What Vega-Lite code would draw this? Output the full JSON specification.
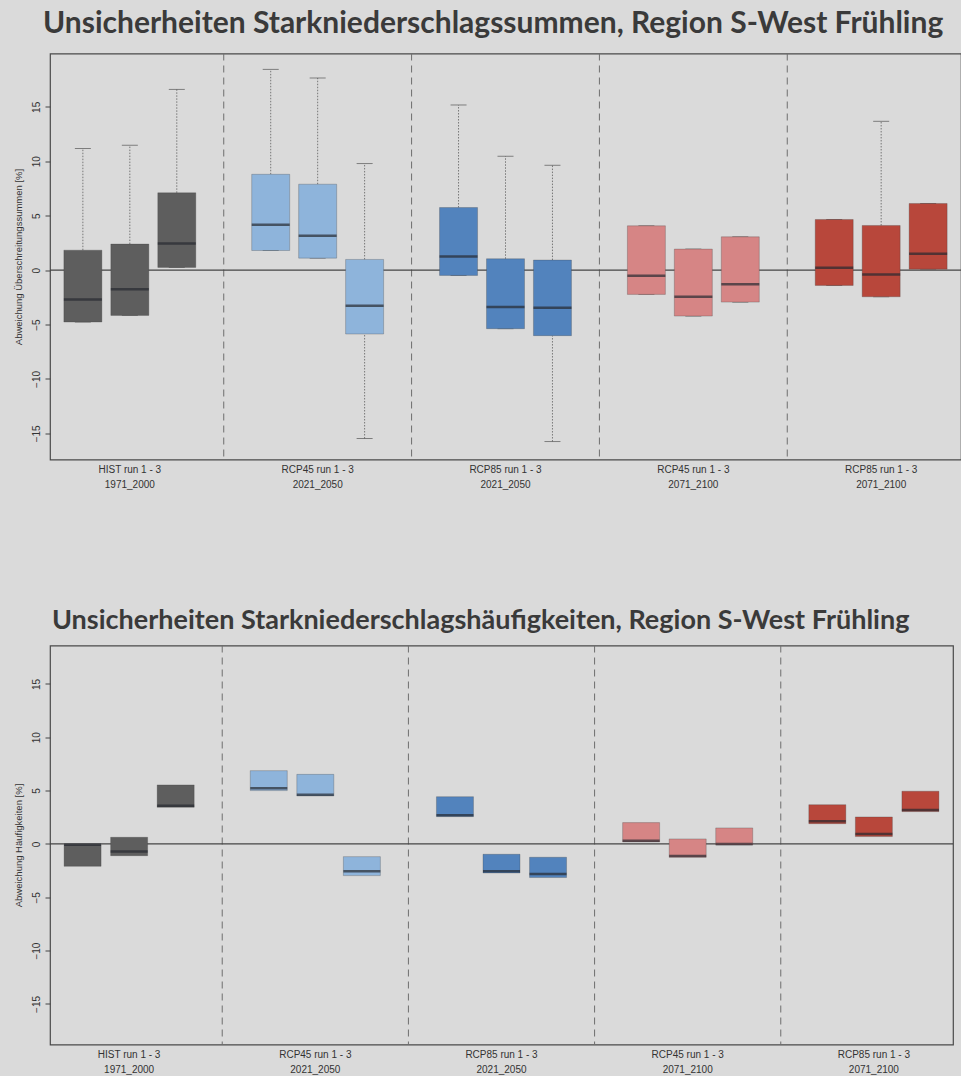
{
  "$schema": "https://vega.github.io/schema/vega-lite/v6.json",
  "background": "#dadada",
  "padding": {"left": 12, "top": 7.5, "right": 0, "bottom": 0},
  "spacing": 115,
  "config": {
    "view": {"stroke": "#4a4a4a", "strokeWidth": 1.2, "fill": "#dadada"},
    "axis": {"labelFont": "Liberation Sans", "titleFont": "Liberation Sans", "labelColor": "#333333", "titleColor": "#333333"}
  },
  "datasets": {
    "sums": [
      {"group": "HIST", "slot": "H1", "lo": -4.77, "q1": -4.77, "med": -2.69, "q3": 1.83, "hi": 11.17},
      {"group": "HIST", "slot": "H2", "lo": -4.16, "q1": -4.16, "med": -1.77, "q3": 2.39, "hi": 11.47},
      {"group": "HIST", "slot": "H3", "lo": 0.25, "q1": 0.25, "med": 2.45, "q3": 7.1, "hi": 16.6},
      {"group": "RCP45 2021", "slot": "A1", "lo": 1.8, "q1": 1.8, "med": 4.16, "q3": 8.8, "hi": 18.44},
      {"group": "RCP45 2021", "slot": "A2", "lo": 1.1, "q1": 1.1, "med": 3.15, "q3": 7.89, "hi": 17.65},
      {"group": "RCP45 2021", "slot": "A3", "lo": -15.47, "q1": -5.87, "med": -3.27, "q3": 0.98, "hi": 9.79},
      {"group": "RCP85 2021", "slot": "B1", "lo": -0.49, "q1": -0.49, "med": 1.25, "q3": 5.75, "hi": 15.17},
      {"group": "RCP85 2021", "slot": "B2", "lo": -5.38, "q1": -5.38, "med": -3.39, "q3": 1.04, "hi": 10.46},
      {"group": "RCP85 2021", "slot": "B3", "lo": -15.75, "q1": -6.02, "med": -3.46, "q3": 0.92, "hi": 9.63},
      {"group": "RCP45 2071", "slot": "C1", "lo": -2.23, "q1": -2.23, "med": -0.52, "q3": 4.07, "hi": 4.07},
      {"group": "RCP45 2071", "slot": "C2", "lo": -4.22, "q1": -4.22, "med": -2.45, "q3": 1.93, "hi": 1.93},
      {"group": "RCP45 2071", "slot": "C3", "lo": -2.94, "q1": -2.94, "med": -1.29, "q3": 3.06, "hi": 3.06},
      {"group": "RCP85 2071", "slot": "D1", "lo": -1.41, "q1": -1.41, "med": 0.21, "q3": 4.65, "hi": 4.65},
      {"group": "RCP85 2071", "slot": "D2", "lo": -2.45, "q1": -2.45, "med": -0.4, "q3": 4.1, "hi": 13.67},
      {"group": "RCP85 2071", "slot": "D3", "lo": 0.09, "q1": 0.09, "med": 1.5, "q3": 6.12, "hi": 6.12}
    ],
    "freq": [
      {"group": "HIST", "slot": "H1", "q1": -2.1, "med": -0.07, "q3": -0.07},
      {"group": "HIST", "slot": "H2", "q1": -1.1, "med": -0.72, "q3": 0.62},
      {"group": "HIST", "slot": "H3", "q1": 3.43, "med": 3.59, "q3": 5.53},
      {"group": "RCP45 2021", "slot": "A1", "q1": 5.0, "med": 5.21, "q3": 6.87},
      {"group": "RCP45 2021", "slot": "A2", "q1": 4.5, "med": 4.62, "q3": 6.52},
      {"group": "RCP45 2021", "slot": "A3", "q1": -2.97, "med": -2.57, "q3": -1.19},
      {"group": "RCP85 2021", "slot": "B1", "q1": 2.56, "med": 2.68, "q3": 4.43},
      {"group": "RCP85 2021", "slot": "B2", "q1": -2.72, "med": -2.56, "q3": -0.97},
      {"group": "RCP85 2021", "slot": "B3", "q1": -3.15, "med": -2.81, "q3": -1.25},
      {"group": "RCP45 2071", "slot": "C1", "q1": 0.19, "med": 0.31, "q3": 2.0},
      {"group": "RCP45 2071", "slot": "C2", "q1": -1.25, "med": -1.12, "q3": 0.47},
      {"group": "RCP45 2071", "slot": "C3", "q1": -0.1, "med": 0.0, "q3": 1.5},
      {"group": "RCP85 2071", "slot": "D1", "q1": 1.9, "med": 2.12, "q3": 3.68},
      {"group": "RCP85 2071", "slot": "D2", "q1": 0.69, "med": 0.94, "q3": 2.53},
      {"group": "RCP85 2071", "slot": "D3", "q1": 3.03, "med": 3.18, "q3": 4.94}
    ],
    "seps": [{"slot": "S1"}, {"slot": "S2"}, {"slot": "S3"}, {"slot": "S4"}],
    "zero": [{"v": 0}]
  },
  "vconcat": [
    {
      "width": 911,
      "height": 406,
      "title": {"text": "Unsicherheiten Starkniederschlagssummen, Region S-West Frühling", "anchor": "start", "frame": "group", "font": "Lato", "fontSize": 30, "fontWeight": "bold", "color": "#3a3a3a", "offset": 14, "dx": -7},
      "layer": [
        {
          "data": {"name": "seps"},
          "mark": {"type": "rule", "strokeDash": [7, 5], "color": "#6e6e6e", "strokeWidth": 1},
          "encoding": {
            "x": {"field": "slot", "type": "nominal", "scale": {"domain": ["H1","H2","H3","S1","A1","A2","A3","S2","B1","B2","B3","S3","C1","C2","C3","S4","D1","D2","D3"], "paddingInner": 0, "paddingOuter": 0.2},
              "axis": {"title": null, "ticks": false, "domain": false, "labelAngle": 0, "labelFontSize": 10, "labelPadding": 5, "labelLineHeight": 15, "labelBaseline": "top", "labelOverlap": false, "labelBound": false,
                "labelExpr": "datum.value === 'H2' ? ['HIST run 1 - 3', '1971_2000'] : datum.value === 'A2' ? ['RCP45 run 1 - 3', '2021_2050'] : datum.value === 'B2' ? ['RCP85 run 1 - 3', '2021_2050'] : datum.value === 'C2' ? ['RCP45 run 1 - 3', '2071_2100'] : datum.value === 'D2' ? ['RCP85 run 1 - 3', '2071_2100'] : ''"}}
          }
        },
        {
          "data": {"name": "zero"},
          "mark": {"type": "rule", "color": "#444444", "strokeWidth": 1.2},
          "encoding": {
            "y": {"field": "v", "type": "quantitative", "scale": {"domain": [-17.4, 19.9], "nice": false, "zero": false},
              "axis": {"title": "Abweichung Überschreitungssummen [%]", "values": [-15, -10, -5, 0, 5, 10, 15], "grid": false, "domain": false, "labelAngle": -90, "labelAlign": "center", "labelBaseline": "bottom", "labelFontSize": 10, "labelPadding": 4, "tickSize": 5, "tickColor": "#444444", "titleFontSize": 9.5, "titleFontWeight": "normal", "titlePadding": 8}}
          }
        },
        {
          "data": {"name": "sums"},
          "mark": {"type": "rule", "strokeDash": [1.5, 1.5], "color": "#777777", "strokeWidth": 1},
          "encoding": {
            "x": {"field": "slot", "type": "nominal"},
            "y": {"field": "q3", "type": "quantitative"},
            "y2": {"field": "hi"}
          }
        },
        {
          "data": {"name": "sums"},
          "mark": {"type": "rule", "strokeDash": [1.5, 1.5], "color": "#777777", "strokeWidth": 1},
          "encoding": {
            "x": {"field": "slot", "type": "nominal"},
            "y": {"field": "lo", "type": "quantitative"},
            "y2": {"field": "q1"}
          }
        },
        {
          "data": {"name": "sums"},
          "mark": {"type": "tick", "color": "#555555", "size": 16, "thickness": 1},
          "encoding": {
            "x": {"field": "slot", "type": "nominal"},
            "y": {"field": "hi", "type": "quantitative"}
          }
        },
        {
          "data": {"name": "sums"},
          "mark": {"type": "tick", "color": "#555555", "size": 16, "thickness": 1},
          "encoding": {
            "x": {"field": "slot", "type": "nominal"},
            "y": {"field": "lo", "type": "quantitative"}
          }
        },
        {
          "data": {"name": "sums"},
          "mark": {"type": "bar", "width": 38, "stroke": "#3a3a3a", "strokeWidth": 0.8, "strokeOpacity": 0.35, "opacity": 1},
          "encoding": {
            "x": {"field": "slot", "type": "nominal"},
            "y": {"field": "q1", "type": "quantitative"},
            "y2": {"field": "q3"},
            "color": {"field": "group", "type": "nominal", "legend": null,
              "scale": {"domain": ["HIST", "RCP45 2021", "RCP85 2021", "RCP45 2071", "RCP85 2071"], "range": ["#5e5e5e", "#8eb4db", "#5283bd", "#d68585", "#b8473b"]}}
          }
        },
        {
          "data": {"name": "sums"},
          "mark": {"type": "tick", "color": "#262a30", "size": 38, "thickness": 2.5},
          "encoding": {
            "x": {"field": "slot", "type": "nominal"},
            "y": {"field": "med", "type": "quantitative"}
          }
        }
      ]
    },
    {
      "width": 903,
      "height": 399,
      "title": {"text": "Unsicherheiten Starkniederschlagshäufigkeiten, Region S-West Frühling", "anchor": "start", "frame": "group", "font": "Lato", "fontSize": 27, "fontWeight": "bold", "color": "#3a3a3a", "offset": 10, "dx": 2},
      "layer": [
        {
          "data": {"name": "seps"},
          "mark": {"type": "rule", "strokeDash": [7, 5], "color": "#6e6e6e", "strokeWidth": 1},
          "encoding": {
            "x": {"field": "slot", "type": "nominal", "scale": {"domain": ["H1","H2","H3","S1","A1","A2","A3","S2","B1","B2","B3","S3","C1","C2","C3","S4","D1","D2","D3"], "paddingInner": 0, "paddingOuter": 0.2},
              "axis": {"title": null, "ticks": false, "domain": false, "labelAngle": 0, "labelFontSize": 10, "labelPadding": 5, "labelLineHeight": 15, "labelBaseline": "top", "labelOverlap": false, "labelBound": false,
                "labelExpr": "datum.value === 'H2' ? ['HIST run 1 - 3', '1971_2000'] : datum.value === 'A2' ? ['RCP45 run 1 - 3', '2021_2050'] : datum.value === 'B2' ? ['RCP85 run 1 - 3', '2021_2050'] : datum.value === 'C2' ? ['RCP45 run 1 - 3', '2071_2100'] : datum.value === 'D2' ? ['RCP85 run 1 - 3', '2071_2100'] : ''"}}
          }
        },
        {
          "data": {"name": "zero"},
          "mark": {"type": "rule", "color": "#444444", "strokeWidth": 1.2},
          "encoding": {
            "y": {"field": "v", "type": "quantitative", "scale": {"domain": [-18.8, 18.6], "nice": false, "zero": false},
              "axis": {"title": "Abweichung Häufigkeiten [%]", "values": [-15, -10, -5, 0, 5, 10, 15], "grid": false, "domain": false, "labelAngle": -90, "labelAlign": "center", "labelBaseline": "bottom", "labelFontSize": 10, "labelPadding": 4, "tickSize": 5, "tickColor": "#444444", "titleFontSize": 9.5, "titleFontWeight": "normal", "titlePadding": 8}}
          }
        },
        {
          "data": {"name": "freq"},
          "mark": {"type": "bar", "width": 37, "stroke": "#3a3a3a", "strokeWidth": 0.8, "strokeOpacity": 0.35},
          "encoding": {
            "x": {"field": "slot", "type": "nominal"},
            "y": {"field": "q1", "type": "quantitative"},
            "y2": {"field": "q3"},
            "color": {"field": "group", "type": "nominal", "legend": null,
              "scale": {"domain": ["HIST", "RCP45 2021", "RCP85 2021", "RCP45 2071", "RCP85 2071"], "range": ["#5e5e5e", "#8eb4db", "#5283bd", "#d68585", "#b8473b"]}}
          }
        },
        {
          "data": {"name": "freq"},
          "mark": {"type": "tick", "color": "#262a30", "size": 37, "thickness": 2.5},
          "encoding": {
            "x": {"field": "slot", "type": "nominal"},
            "y": {"field": "med", "type": "quantitative"}
          }
        }
      ]
    }
  ]
}
